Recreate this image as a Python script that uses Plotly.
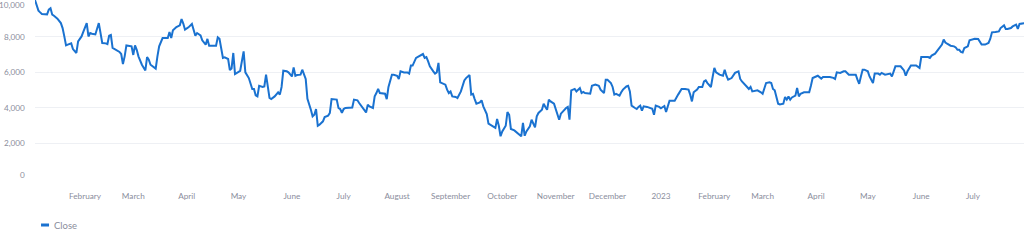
import plotly.graph_objects as go

# Daily closing prices, Jan 2022 - Jul 2023
dates = [
    "2022-01-03", "2022-01-05", "2022-01-06", "2022-01-07", "2022-01-10", "2022-01-11", "2022-01-12", "2022-01-13",
    "2022-01-14", "2022-01-16", "2022-01-18", "2022-01-19", "2022-01-20", "2022-01-21", "2022-01-22", "2022-01-24",
    "2022-01-25", "2022-01-26", "2022-01-27", "2022-01-28", "2022-01-30", "2022-01-31",
    "2022-02-01", "2022-02-02", "2022-02-03", "2022-02-04", "2022-02-05", "2022-02-07", "2022-02-09", "2022-02-10",
    "2022-02-11", "2022-02-13", "2022-02-14", "2022-02-15", "2022-02-16", "2022-02-17", "2022-02-19", "2022-02-21",
    "2022-02-22", "2022-02-23", "2022-02-24", "2022-02-25", "2022-02-26", "2022-02-28",
    "2022-03-01", "2022-03-02", "2022-03-03", "2022-03-04", "2022-03-06", "2022-03-08", "2022-03-09", "2022-03-10",
    "2022-03-11", "2022-03-12", "2022-03-14", "2022-03-15", "2022-03-16", "2022-03-18", "2022-03-20", "2022-03-21",
    "2022-03-22", "2022-03-23", "2022-03-24", "2022-03-26", "2022-03-28", "2022-03-29", "2022-03-30", "2022-03-31",
    "2022-04-02", "2022-04-04", "2022-04-06", "2022-04-07", "2022-04-09", "2022-04-10", "2022-04-12", "2022-04-13",
    "2022-04-14", "2022-04-16", "2022-04-18", "2022-04-19", "2022-04-20", "2022-04-22", "2022-04-23", "2022-04-25",
    "2022-04-26", "2022-04-27", "2022-04-28", "2022-04-29",
    "2022-05-01", "2022-05-02", "2022-05-04", "2022-05-05", "2022-05-07", "2022-05-08", "2022-05-09", "2022-05-10",
    "2022-05-11", "2022-05-12", "2022-05-13", "2022-05-15", "2022-05-16", "2022-05-17", "2022-05-19", "2022-05-20",
    "2022-05-22", "2022-05-24", "2022-05-25", "2022-05-26", "2022-05-27", "2022-05-29", "2022-05-30",
    "2022-06-01", "2022-06-02", "2022-06-03", "2022-06-04", "2022-06-06", "2022-06-07", "2022-06-09", "2022-06-10",
    "2022-06-12", "2022-06-13", "2022-06-14", "2022-06-15", "2022-06-16", "2022-06-17", "2022-06-19", "2022-06-20",
    "2022-06-22", "2022-06-23", "2022-06-24", "2022-06-25", "2022-06-27", "2022-06-28", "2022-06-29", "2022-06-30",
    "2022-07-01", "2022-07-02", "2022-07-04", "2022-07-06", "2022-07-07", "2022-07-09", "2022-07-10", "2022-07-11",
    "2022-07-13", "2022-07-14", "2022-07-15", "2022-07-16", "2022-07-18", "2022-07-19", "2022-07-20", "2022-07-21",
    "2022-07-22", "2022-07-24", "2022-07-25", "2022-07-26", "2022-07-27", "2022-07-29", "2022-07-30",
    "2022-08-01", "2022-08-02", "2022-08-03", "2022-08-05", "2022-08-07", "2022-08-08", "2022-08-09", "2022-08-10",
    "2022-08-12", "2022-08-13", "2022-08-15", "2022-08-16", "2022-08-17", "2022-08-18", "2022-08-19", "2022-08-20",
    "2022-08-22", "2022-08-23", "2022-08-24", "2022-08-25", "2022-08-26", "2022-08-27", "2022-08-29", "2022-08-30",
    "2022-08-31",
    "2022-09-01", "2022-09-02", "2022-09-04", "2022-09-05", "2022-09-07", "2022-09-08", "2022-09-09", "2022-09-10",
    "2022-09-12", "2022-09-13", "2022-09-14", "2022-09-15", "2022-09-16", "2022-09-18", "2022-09-19", "2022-09-20",
    "2022-09-22", "2022-09-23", "2022-09-24", "2022-09-25", "2022-09-27", "2022-09-28", "2022-09-29", "2022-09-30",
    "2022-10-01", "2022-10-03", "2022-10-04", "2022-10-05", "2022-10-06", "2022-10-08", "2022-10-09", "2022-10-11",
    "2022-10-12", "2022-10-13", "2022-10-14", "2022-10-15", "2022-10-17", "2022-10-18", "2022-10-19", "2022-10-20",
    "2022-10-21", "2022-10-22", "2022-10-24", "2022-10-25", "2022-10-26", "2022-10-27", "2022-10-28", "2022-10-29",
    "2022-10-31",
    "2022-11-02", "2022-11-03", "2022-11-04", "2022-11-05", "2022-11-07", "2022-11-08", "2022-11-09", "2022-11-10",
    "2022-11-12", "2022-11-13", "2022-11-15", "2022-11-16", "2022-11-17", "2022-11-18", "2022-11-20", "2022-11-21",
    "2022-11-22", "2022-11-24", "2022-11-26", "2022-11-27", "2022-11-29", "2022-11-30",
    "2022-12-01", "2022-12-03", "2022-12-04", "2022-12-05", "2022-12-06", "2022-12-08", "2022-12-09", "2022-12-10",
    "2022-12-12", "2022-12-13", "2022-12-14", "2022-12-15", "2022-12-17", "2022-12-18", "2022-12-19", "2022-12-20",
    "2022-12-21", "2022-12-22", "2022-12-24", "2022-12-26", "2022-12-27", "2022-12-28", "2022-12-29", "2022-12-31",
    "2023-01-01", "2023-01-03", "2023-01-04", "2023-01-06", "2023-01-07", "2023-01-09", "2023-01-11", "2023-01-12",
    "2023-01-13", "2023-01-15", "2023-01-17", "2023-01-18", "2023-01-19", "2023-01-20", "2023-01-22", "2023-01-23",
    "2023-01-25", "2023-01-26", "2023-01-27", "2023-01-28", "2023-01-30", "2023-01-31",
    "2023-02-01", "2023-02-02", "2023-02-04", "2023-02-06", "2023-02-07", "2023-02-08", "2023-02-09", "2023-02-11",
    "2023-02-12", "2023-02-13", "2023-02-15", "2023-02-16", "2023-02-17", "2023-02-19", "2023-02-20", "2023-02-21",
    "2023-02-22", "2023-02-23", "2023-02-25", "2023-02-26", "2023-02-28",
    "2023-03-01", "2023-03-03", "2023-03-05", "2023-03-06", "2023-03-07", "2023-03-08", "2023-03-09", "2023-03-10",
    "2023-03-11", "2023-03-13", "2023-03-14", "2023-03-15", "2023-03-16", "2023-03-17", "2023-03-18", "2023-03-20",
    "2023-03-21", "2023-03-22", "2023-03-23", "2023-03-25", "2023-03-27", "2023-03-28", "2023-03-29", "2023-03-30",
    "2023-04-01", "2023-04-02", "2023-04-04", "2023-04-05", "2023-04-07", "2023-04-09", "2023-04-11", "2023-04-12",
    "2023-04-13", "2023-04-15", "2023-04-17", "2023-04-18", "2023-04-20", "2023-04-22", "2023-04-24", "2023-04-25",
    "2023-04-26", "2023-04-27", "2023-04-28", "2023-04-29",
    "2023-05-01", "2023-05-02", "2023-05-03", "2023-05-04", "2023-05-05", "2023-05-07", "2023-05-08", "2023-05-09",
    "2023-05-11", "2023-05-13", "2023-05-14", "2023-05-15", "2023-05-17", "2023-05-18", "2023-05-20", "2023-05-22",
    "2023-05-23", "2023-05-24", "2023-05-26", "2023-05-27", "2023-05-29", "2023-05-31",
    "2023-06-01", "2023-06-03", "2023-06-05", "2023-06-06", "2023-06-07", "2023-06-09", "2023-06-10", "2023-06-11",
    "2023-06-13", "2023-06-14", "2023-06-15", "2023-06-16", "2023-06-18", "2023-06-20", "2023-06-21", "2023-06-22",
    "2023-06-23", "2023-06-24", "2023-06-25", "2023-06-26", "2023-06-28", "2023-06-29",
    "2023-07-01", "2023-07-02", "2023-07-04", "2023-07-05", "2023-07-06", "2023-07-08", "2023-07-10", "2023-07-11",
    "2023-07-12", "2023-07-14", "2023-07-16", "2023-07-17", "2023-07-19", "2023-07-20", "2023-07-21", "2023-07-23",
    "2023-07-24", "2023-07-26", "2023-07-27", "2023-07-28", "2023-07-29", "2023-07-31",
]

close = [
    10050, 9460, 9360, 9270, 9250, 9510, 9590, 9230, 9170, 9010, 8760, 8480, 8010, 7510, 7550, 7620,
    7300, 7210, 7080, 7730, 8010, 8260,
    8500, 8760, 8010, 8200, 8160, 8120, 8760, 8240, 7640, 7620, 7580, 8050, 8090, 7360, 7230, 7140,
    7020, 6460, 6890, 7510, 7490, 7450,
    6970, 7510, 7260, 6890, 6420, 6100, 6850, 6700, 6420, 6330, 6200, 6890, 7450, 7920, 7920, 7920,
    8260, 7920, 8350, 8540, 8630, 8990, 8730, 8390,
    8520, 8710, 8050, 8200, 8070, 7790, 7550, 7870, 7490, 7490, 7490, 7960, 7880, 6800, 6830, 6740,
    6120, 6210, 7080, 5900,
    5990, 6080, 7170, 5990, 5670, 5300, 5060, 5060, 4700, 4640, 5240, 5170, 5200, 5860, 4550, 4490,
    4640, 4870, 4740, 5170, 6080, 6050, 5990,
    5760, 6270, 5800, 5840, 5860, 6140, 5620, 4510, 3890, 3520, 3610, 3930, 2990, 3050, 3240, 3480,
    3560, 3710, 4490, 4490, 4460, 3990, 3930, 3710,
    3930, 3990, 3990, 4020, 4460, 4420, 4270, 4120, 3850, 3740, 4170, 4080, 3990, 4640, 4830, 5060,
    4830, 4830, 4790, 4490, 5170, 5860, 5860,
    5800, 5620, 6050, 5990, 5990, 5920, 6370, 6370, 6800, 6850, 6930, 7020, 6800, 6850, 6610, 6330,
    6050, 5920, 5990, 6520, 5430, 5390, 5300, 5020, 4830,
    4920, 4640, 4610, 4550, 4920, 5200, 5540, 5670, 5840, 4740, 4780, 4490, 4230, 4300, 4420, 4080,
    3650, 3110, 3050, 2960, 2870, 3370, 2990, 2400,
    2670, 2990, 3760, 3610, 2810, 2730, 2640, 2490, 2400, 3150, 2430, 2670, 2960, 3330, 3150, 2900,
    3520, 3710, 3890, 4230, 4050, 3890, 4460, 4360, 4230,
    3710, 3330, 3670, 3800, 3990, 4050, 3330, 4980, 5060, 4920, 5110, 4830, 4890, 4830, 4830, 4790,
    5240, 5300, 5240, 5020, 4830, 5580,
    5580, 5390, 5170, 4740, 4780, 4680, 4870, 5020, 5200, 5240, 4920, 4120, 3990, 3930, 4050, 4120,
    3840, 4080, 4050, 3990, 3950, 3610, 4120, 4050,
    3970, 4100, 3760, 4400, 4400, 4400, 4740, 4920, 5060, 5060, 5020, 4740, 4360, 4870, 5020, 5170,
    5170, 5480, 5540, 5390, 5170, 5730,
    6240, 5990, 5860, 5800, 6140, 5800, 5580, 5670, 5800, 5960, 6050, 5620, 5480, 5300, 5170, 5060,
    5170, 4920, 4980, 4980, 4870,
    4790, 5390, 5430, 5390, 5060, 4980, 4550, 4230, 4190, 4230, 4610, 4460, 4640, 4460, 4580, 4680,
    5110, 4640, 4790, 4870, 4870, 4870, 5240, 5670,
    5760, 5800, 5640, 5730, 5730, 5730, 5680, 5620, 5990, 5960, 6050, 6050, 5860, 5860, 5860, 5580,
    5350, 5760, 6140, 6140,
    6050, 5760, 5540, 5390, 5920, 5920, 5860, 5960, 5860, 5920, 5920, 5760, 6330, 6330, 6330, 6100,
    5800, 6050, 6380, 6380, 6380, 6240,
    6850, 6850, 6850, 6800, 6930, 7040, 7170, 7300, 7550, 7830, 7670, 7600, 7490, 7450, 7390, 7260,
    7260, 7140, 7110, 7360, 7450, 7790,
    7870, 7880, 7870, 7730, 7550, 7550, 7640, 7870, 8240, 8260, 8290, 8480, 8630, 8430, 8430, 8480,
    8570, 8670, 8430, 8710, 8730, 8760,
]

# Month ticks along the time axis
tick_dates = [
    "2022-02-01", "2022-03-01", "2022-04-01", "2022-05-01", "2022-06-01", "2022-07-01",
    "2022-08-01", "2022-09-01", "2022-10-01", "2022-11-01", "2022-12-01", "2023-01-01",
    "2023-02-01", "2023-03-01", "2023-04-01", "2023-05-01", "2023-06-01", "2023-07-01",
]
tick_labels = [
    "February", "March", "April", "May", "June", "July",
    "August", "September", "October", "November", "December", "2023",
    "February", "March", "April", "May", "June", "July",
]

y_ticks = [0, 2000, 4000, 6000, 8000, 10000]

LINE = "#1a72d0"
GRID = "#eef0f4"
LABEL = "#8a8d9c"
FONT = "Lato, 'Source Sans Pro', sans-serif"

fig = go.Figure()
fig.add_trace(go.Scatter(
    x=dates, y=close, mode="lines", name="Close",
    line=dict(color=LINE, width=2), showlegend=False,
))

# y labels sit beside the gridlines; the outermost ones are kept inside the axis span
annotations = []
for v in y_ticks:
    shift = 0
    if v == y_ticks[-1]:
        shift = -4
    elif v == y_ticks[0]:
        shift = 4
    annotations.append(dict(
        x=0, xref="paper", y=v, yref="y", text=f"{v:,}", showarrow=False,
        xanchor="right", yanchor="middle", xshift=-8, yshift=shift,
        font=dict(family=FONT, size=8.2, color=LABEL),
    ))

# legend entry
annotations.append(dict(
    x=0.0172, xref="paper", y=-0.257, yref="paper", text="Close", showarrow=False,
    xanchor="left", yanchor="middle",
    font=dict(family=FONT, size=9.5, color=LABEL),
))

fig.update_layout(
    width=1024, height=250,
    margin=dict(l=35, r=0, t=0, b=71),
    paper_bgcolor="white", plot_bgcolor="white",
    font=dict(family=FONT, color=LABEL),
    annotations=annotations,
    shapes=[dict(
        type="rect", xref="paper", yref="paper",
        x0=0.0061, x1=0.0142, y0=-0.2654, y1=-0.2486,
        fillcolor=LINE, line=dict(width=0),
    )],
    xaxis=dict(
        type="date", range=["2022-01-03", "2023-07-30 14:00"],
        tickvals=tick_dates, ticktext=tick_labels,
        tickfont=dict(family=FONT, size=8.2, color=LABEL),
        ticks="outside", ticklen=9, tickcolor="rgba(0,0,0,0)",
        showgrid=False, zeroline=False, showline=False,
    ),
    yaxis=dict(
        range=[0, 10056], tickvals=y_ticks, showticklabels=False,
        showgrid=True, gridcolor=GRID, gridwidth=1,
        zeroline=False, showline=False,
    ),
)

fig.write_html("out.html")
